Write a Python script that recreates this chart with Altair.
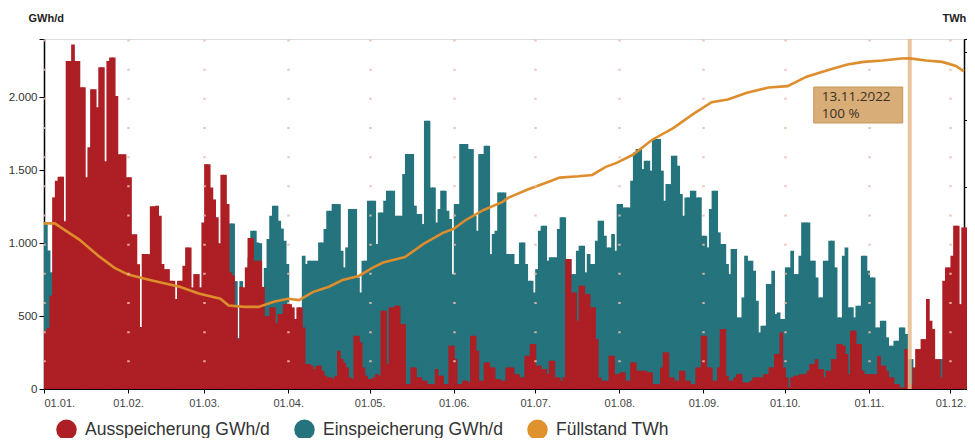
import altair as alt
import pandas as pd

START = "2022-01-01"

# Ausspeicherung GWh/d, one value per day from 01.01.2022
ausspeicherung = [
    400, 420, 640, 1314, 1428, 1456, 1456, 1150, 2250, 2250,
    2363, 2250, 2250, 2069, 2069, 1452, 1658, 2055, 2055, 1932,
    2206, 2206, 1562, 2250, 2274, 2274, 2010, 1610, 1610, 1610,
    1452, 1452, 1062, 1062, 856, 425, 925, 925, 925, 1253,
    1253, 1257, 1188, 857, 822, 822, 742, 742, 617, 742,
    742, 845, 971, 971, 697, 788, 788, 697, 1142, 1542,
    1542, 1382, 1300, 1177, 1000, 1469, 1469, 1268, 800, 780,
    560, 340, 700, 697, 834, 1035, 1035, 880, 880, 880,
    700, 500, 500, 560, 560, 450, 514, 514, 582, 582,
    582, 560, 480, 560, 560, 422, 171, 171, 160, 137,
    160, 160, 125, 91, 80, 80, 69, 90, 262, 206,
    180, 148, 80, 69, 365, 365, 320, 148, 91, 68,
    69, 80, 102, 91, 537, 537, 171, 560, 560, 571,
    571, 445, 445, 34, 34, 148, 148, 80, 80, 57,
    57, 34, 34, 34, 137, 91, 91, 34, 34, 297,
    297, 205, 34, 34, 57, 57, 45, 365, 365, 262,
    57, 57, 182, 182, 148, 148, 68, 68, 57, 57,
    148, 148, 148, 102, 102, 80, 80, 228, 228, 308,
    308, 160, 160, 137, 137, 102, 194, 194, 80, 80,
    57, 80, 891, 891, 662, 662, 468, 708, 708, 651,
    651, 560, 560, 342, 80, 57, 57, 57, 228, 228,
    102, 102, 114, 114, 57, 57, 182, 182, 125, 125,
    125, 125, 114, 114, 34, 34, 34, 148, 251, 251,
    80, 80, 57, 57, 125, 125, 57, 57, 34, 34,
    148, 148, 365, 365, 148, 148, 57, 57, 148, 411,
    411, 91, 57, 57, 80, 102, 102, 45, 45, 45,
    57, 80, 80, 80, 80, 102, 102, 148, 148, 240,
    240, 388, 148, 80, 11, 80, 91, 91, 102, 102,
    102, 125, 171, 171, 205, 137, 137, 80, 125, 125,
    205, 205, 308, 308, 297, 240, 102, 400, 400, 308,
    308, 125, 102, 102, 102, 102, 102, 228, 160, 160,
    125, 80, 80, 34, 34, 11, 11, 274, 30, 30,
    148, 274, 274, 342, 342, 617, 468, 411, 205, 205,
    80, 742, 834, 834, 914, 1120, 1120, 582, 1108, 1108,
]

# Einspeicherung GWh/d, one value per day from 01.01.2022
einspeicherung = [
    1130, 950, 800, 0, 0, 0, 0, 0, 0, 0,
    0, 0, 0, 0, 0, 0, 0, 0, 0, 0,
    0, 0, 0, 0, 0, 0, 0, 0, 0, 0,
    0, 0, 0, 0, 0, 0, 0, 0, 0, 0,
    0, 0, 0, 0, 0, 0, 0, 0, 0, 0,
    0, 0, 0, 0, 0, 0, 0, 0, 0, 0,
    0, 0, 0, 0, 0, 0, 0, 0, 1135, 1135,
    740, 350, 740, 650, 700, 900, 1085, 1085, 1005, 1000,
    560, 830, 1028, 1188, 1257, 1257, 1154, 1100, 1017, 857,
    500, 450, 450, 450, 500, 914, 857, 880, 880, 880,
    880, 1005, 1005, 1097, 1222, 1222, 1268, 1268, 1268, 948,
    834, 971, 1234, 1234, 1234, 765, 662, 880, 880, 1291,
    1291, 1291, 994, 1211, 1211, 1291, 1360, 1360, 1360, 1188,
    1188, 1188, 1474, 1611, 1611, 1611, 1257, 1200, 1200, 1131,
    1840, 1840, 1382, 1382, 1142, 1234, 1360, 1360, 1222, 1165,
    788, 1268, 1268, 1680, 1680, 1680, 1645, 1645, 1188, 1085,
    1611, 1611, 1668, 1668, 925, 1063, 1085, 1348, 1348, 1348,
    925, 925, 925, 857, 857, 1005, 1005, 857, 742, 742,
    662, 822, 1085, 1120, 1120, 880, 903, 903, 903, 1097,
    1177, 1177, 891, 891, 788, 788, 948, 982, 982, 800,
    925, 857, 857, 1017, 1154, 1154, 1051, 971, 971, 1063,
    948, 1268, 1268, 1245, 1245, 1245, 1428, 1622, 1645, 1645,
    1508, 1565, 1565, 1497, 1714, 1714, 1714, 1497, 1291, 1405,
    1405, 1600, 1600, 1531, 1337, 1188, 1314, 1314, 1360, 1360,
    1314, 1314, 1051, 1051, 971, 1234, 1360, 1360, 1074, 994,
    994, 857, 788, 960, 960, 491, 491, 628, 914, 880,
    880, 811, 605, 388, 434, 434, 720, 720, 811, 514,
    525, 480, 480, 834, 834, 948, 788, 788, 914, 1142,
    1142, 1142, 880, 880, 765, 628, 628, 880, 880, 1017,
    1017, 834, 491, 491, 914, 971, 560, 560, 491, 571,
    571, 914, 914, 811, 765, 765, 422, 422, 468, 468,
    354, 297, 297, 331, 331, 422, 422, 377, 205, 205,
    60, 40, 30, 30, 30, 30, 30, 30, 30, 30,
    205, 20, 20, 20, 20, 20, 20, 20, 20, 20,
]

# Füllstand TWh (day index since 01.01.2022, value)
fill_day = [0, 4, 7, 13, 20, 26, 31, 39, 50, 57, 65, 68, 74, 79, 85, 90, 94, 99,
            105, 110, 116, 121, 125, 133, 140, 147, 151, 155, 162, 169, 171, 178,
            186, 190, 197, 202, 207, 211, 217, 224, 232, 239, 246, 252, 259, 267,
            274, 281, 289, 296, 302, 309, 316, 319, 325, 331, 336, 339]
fill_twh = [123, 123, 119, 111, 99, 90, 85, 81, 76, 71, 67, 62, 61, 61, 65, 67, 66, 72,
            76, 81, 84, 90, 94, 98, 108, 116, 119, 125, 133, 139, 142, 148,
            154, 157, 158, 159, 165, 168, 174, 185, 194, 204, 213, 215, 220, 224,
            225, 232, 237, 241, 243, 244, 245.5, 245.6, 244, 243, 240, 236]

series_names = ["Ausspeicherung GWh/d", "Einspeicherung GWh/d", "Füllstand TWh"]
series_colors = ["#ad1f24", "#24737d", "#e0922e"]
line_color = "#de8d2c"

marker_date = "2022-11-16"
marker_date_text = "13.11.2022"
marker_pct_text = "100 %"

left_ticks = [0, 500, 1000, 1500, 2000, 2400]
right_ticks = [0, 50, 100, 150, 200, 250, 260]

# ---------------------------------------------------------------
dates = pd.date_range(START, periods=len(ausspeicherung), freq="D")


def bars_frame(values, name):
    return pd.DataFrame({
        "date": dates.strftime("%Y-%m-%d"),
        "end": (dates + pd.Timedelta(days=1)).strftime("%Y-%m-%d"),
        "value": values,
        "series": name,
    })


df_out = bars_frame(ausspeicherung, series_names[0])
df_in = bars_frame(einspeicherung, series_names[1])
df_fill = pd.DataFrame({
    "date": [(pd.Timestamp(START) + pd.Timedelta(days=d)).strftime("%Y-%m-%d") for d in fill_day],
    "twh": fill_twh,
})
df_marker = pd.DataFrame({"date": [marker_date],
                          "label1": [marker_date_text],
                          "label2": [marker_pct_text]})

FONT = "Liberation Sans"
PLOT_H = 350

x_scale = alt.Scale(
    type="utc",
    domain=[alt.DateTime(year=2022, month=1, date=1, utc=True),
            alt.DateTime(year=2022, month=12, date=6, utc=True)],
)
x_axis = alt.Axis(
    values=[alt.DateTime(year=2022, month=m, date=1, utc=True) for m in range(1, 13)],
    format="%d.%m.", title=None, labelFont=FONT, labelFontSize=11, labelColor="#444",
    tickColor="black", tickSize=4, domainColor="black", domainWidth=1,
    labelPadding=4, grid=True, gridColor="#ebbcb0", gridWidth=2.5,
    gridDash=[2, PLOT_H / 12 - 2], gridOpacity=0.85, zindex=1,
)
y_left_axis = alt.Axis(
    values=left_ticks,
    labelExpr="datum.value == 2400 ? '' : replace(format(datum.value, ','), ',', '.')",
    title="GWh/d", titleAngle=0, titleX=-16, titleY=-21, titleAlign="left",
    titleBaseline="middle", titleFont=FONT, titleFontSize=11, titleFontWeight="bold",
    titleColor="#222", labelFont=FONT, labelFontSize=11.5, labelColor="#333",
    tickColor="black", tickSize=5, domainColor="black", domainWidth=1.5,
    grid=False, labelPadding=2,
)
y_right_axis = alt.Axis(
    orient="right", values=right_ticks, labels=False,
    title="TWh", titleAngle=0, titleX=-22, titleY=-21, titleAlign="left",
    titleBaseline="middle", titleFont=FONT, titleFontSize=11, titleFontWeight="bold",
    titleColor="#222", tickColor="black", tickSize=4, domainColor="black",
    domainWidth=1.5, grid=False,
)

legend = alt.Legend(
    title=None, orient="none", legendX=12, legendY=380, direction="horizontal",
    symbolType="circle", symbolSize=420, symbolStrokeWidth=0, symbolOpacity=1,
    labelFont=FONT, labelFontSize=17.5, labelColor="#333",
    labelOffset=8, columnPadding=24, labelLimit=400,
)
color = alt.Color(
    "series:N",
    scale=alt.Scale(domain=series_names, range=series_colors),
    legend=legend,
)

y_bars = alt.Y("value:Q", stack=None, scale=alt.Scale(domain=[0, 2400], nice=False),
               axis=y_left_axis)


def bar_layer(df):
    return alt.Chart(df).mark_bar(x2Offset=1, strokeWidth=0).encode(
        x=alt.X("date:T", scale=x_scale, axis=x_axis),
        x2="end:T",
        y=y_bars,
        y2=alt.datum(0),
        color=color,
    )


bars = alt.layer(bar_layer(df_in), bar_layer(df_out))

rule = alt.Chart(df_marker).mark_rule(color="#e4b88a", strokeWidth=4, opacity=0.85).encode(
    x=alt.X("date:T"),
)

line = alt.Chart(df_fill).mark_line(color=line_color, strokeWidth=2.6).encode(
    x=alt.X("date:T"),
    y=alt.Y("twh:Q", scale=alt.Scale(domain=[0, 260], nice=False), axis=y_right_axis),
)

box = alt.Chart(df_marker).mark_rect(
    fill="#d8ad77", stroke="#c8985f", strokeWidth=1, xOffset=-96, x2Offset=-7
).encode(
    x=alt.X("date:T"), x2="date:T", y=alt.value(48), y2=alt.value(84),
)
text_kw = dict(align="left", baseline="middle", dx=-88, font="Open Sans",
               fontSize=13.5, color="#3a3024")
box_text1 = alt.Chart(df_marker).mark_text(**text_kw).encode(
    x=alt.X("date:T"), y=alt.value(58), text="label1:N",
)
box_text2 = alt.Chart(df_marker).mark_text(**text_kw).encode(
    x=alt.X("date:T"), y=alt.value(75), text="label2:N",
)

chart = alt.layer(bars, rule, line, box, box_text1, box_text2).resolve_scale(
    y="independent"
).properties(
    width=920, height=PLOT_H,
    autosize=alt.AutoSizeParams(type="none"),
    padding={"left": 36, "top": 31, "right": 3, "bottom": 49},
).configure_view(stroke=None).configure(background="white")

chart.save("out.html", embed_options={"renderer": "svg", "actions": False})
